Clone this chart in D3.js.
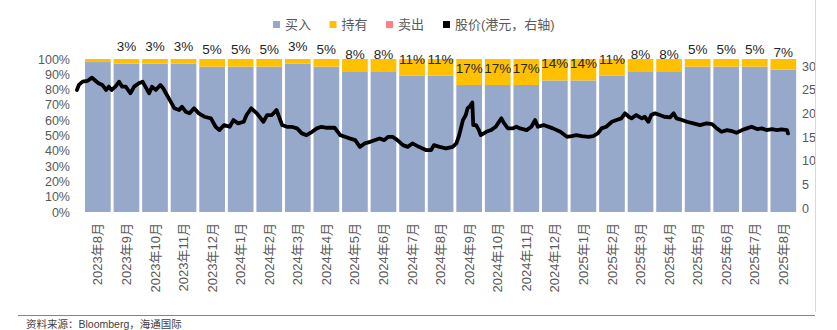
<!DOCTYPE html>
<html>
<head>
<meta charset="utf-8">
<script src="https://cdn.jsdelivr.net/npm/d3@7"></script>
<style>
  html, body { margin: 0; padding: 0; background: #ffffff; }
  svg { display: block; }
  text { font-family: "Liberation Sans", Arial, "Noto Sans CJK SC", sans-serif; }
</style>
</head>
<body>
<svg id="chart" width="837" height="330"></svg>
<script>
// ---------- data ----------
const months = ["2023年8月","2023年9月","2023年10月","2023年11月","2023年12月",
  "2024年1月","2024年2月","2024年3月","2024年4月","2024年5月","2024年6月","2024年7月",
  "2024年8月","2024年9月","2024年10月","2024年11月","2024年12月",
  "2025年1月","2025年2月","2025年3月","2025年4月","2025年5月","2025年6月","2025年7月","2025年8月"];
const buyPct  = [98,97,97,97,95,95,95,97,95,92,92,89,89,83,83,83,86,86,89,92,92,95,95,95,93];
const holdPct = [2,3,3,3,5,5,5,3,5,8,8,11,11,17,17,17,14,14,11,8,8,5,5,5,7];
const sellPct = [0,0,0,0,0,0,0,0,0,0,0,0,0,0,0,0,0,0,0,0,0,0,0,0,0];
const holdLabels = ["","3%","3%","3%","5%","5%","5%","3%","5%","8%","8%","11%","11%",
  "17%","17%","17%","14%","14%","11%","8%","8%","5%","5%","5%","7%"];
const leftTicks = [0,10,20,30,40,50,60,70,80,90,100];
const rightTicks = [0,5,10,15,20,25,30];
const seriesNames = ["买入","持有","卖出","股价(港元，右轴)"];

const priceDates = ["2023-08-01","2023-08-03","2023-08-07","2023-08-12","2023-08-17","2023-08-21","2023-08-24","2023-08-28",
  "2023-09-01","2023-09-04","2023-09-07","2023-09-11","2023-09-15","2023-09-18","2023-09-22","2023-09-27",
  "2023-10-01","2023-10-06","2023-10-10","2023-10-13","2023-10-17","2023-10-20","2023-10-24","2023-10-29",
  "2023-11-01","2023-11-05","2023-11-09","2023-11-13","2023-11-18","2023-11-21","2023-11-25","2023-11-29",
  "2023-12-04","2023-12-09","2023-12-15","2023-12-22","2023-12-27","2023-12-31",
  "2024-01-05","2024-01-11","2024-01-15","2024-01-20","2024-01-26","2024-01-29",
  "2024-02-03","2024-02-09","2024-02-16","2024-02-20","2024-02-25",
  "2024-03-01","2024-03-07","2024-03-12","2024-03-17","2024-03-23","2024-03-28",
  "2024-04-02","2024-04-08","2024-04-13","2024-04-18","2024-04-24",
  "2024-05-02","2024-05-08","2024-05-13","2024-05-18","2024-05-24","2024-05-29",
  "2024-06-03","2024-06-09","2024-06-19","2024-06-24","2024-06-28",
  "2024-07-03","2024-07-08","2024-07-14","2024-07-19","2024-07-24","2024-07-31",
  "2024-08-08","2024-08-13","2024-08-16","2024-08-22","2024-08-29",
  "2024-09-05","2024-09-09","2024-09-12","2024-09-16","2024-09-19","2024-09-21","2024-09-23","2024-09-26","2024-09-27","2024-09-30",
  "2024-10-03","2024-10-05","2024-10-11","2024-10-16","2024-10-21","2024-10-27","2024-10-30",
  "2024-11-03","2024-11-08","2024-11-12","2024-11-16","2024-11-23","2024-11-28",
  "2024-12-02","2024-12-05","2024-12-11","2024-12-21","2024-12-29",
  "2025-01-05","2025-01-10","2025-01-15","2025-01-21","2025-01-28",
  "2025-02-02","2025-02-07","2025-02-11","2025-02-16","2025-02-22","2025-02-27",
  "2025-03-04","2025-03-08","2025-03-12","2025-03-15","2025-03-20","2025-03-26","2025-03-29",
  "2025-04-02","2025-04-05","2025-04-09","2025-04-14","2025-04-19","2025-04-25","2025-04-29",
  "2025-05-02","2025-05-08","2025-05-13","2025-05-20","2025-05-27",
  "2025-06-03","2025-06-09","2025-06-14","2025-06-19","2025-06-25","2025-06-30",
  "2025-07-05","2025-07-11","2025-07-16","2025-07-21","2025-07-27",
  "2025-08-01","2025-08-06","2025-08-12","2025-08-17","2025-08-22","2025-08-28","2025-08-29"];
const priceValues = [24.94,26.00,26.69,26.84,27.54,26.84,26.36,26.00,
  24.94,25.64,24.94,25.64,26.69,25.64,25.64,24.24,
  25.64,26.36,26.69,25.64,24.24,25.64,24.94,26.00,
  25.30,23.88,22.46,21.06,20.70,21.40,20.34,20.00,
  21.06,20.00,19.28,18.94,17.16,16.46,
  17.52,17.16,18.58,17.88,18.22,19.64,
  21.06,20.00,18.22,19.64,19.64,
  20.70,17.52,17.16,17.16,16.82,15.76,
  15.40,16.10,16.82,17.16,16.95,
  16.95,15.40,15.04,14.70,14.34,12.92,
  13.64,13.98,14.70,14.34,15.04,
  15.04,14.34,13.28,12.92,13.64,12.92,
  12.22,12.22,13.28,12.92,12.58,
  12.92,13.64,15.40,18.58,19.64,21.06,21.40,22.30,17.52,17.52,
  16.46,15.40,16.10,16.46,17.16,18.94,17.88,
  16.82,16.82,17.16,16.82,16.46,17.16,
  18.58,17.16,17.52,16.82,16.10,
  15.04,15.19,15.40,15.19,15.04,
  15.19,15.76,16.82,17.16,18.22,18.58,
  18.94,20.00,19.28,18.94,19.64,18.94,19.28,
  18.22,19.64,20.00,19.64,19.28,19.15,20.00,
  18.94,18.58,18.22,17.88,17.52,
  17.88,17.73,16.82,16.10,16.46,16.25,
  15.89,16.46,16.82,17.16,16.67,
  16.82,16.46,16.67,16.46,16.61,16.46,15.76];

// ---------- layout ----------
const svg = d3.select("#chart");
const axisColor = "#595959";
const colBuy = "#97A9CB", colHold = "#FFC000", colSell = "#FF8080", colPrice = "#000000";

const x = d3.scaleBand().domain(months).range([83.6, 797.6]).paddingInner(0.1).paddingOuter(0.05);
const yL = d3.scaleLinear().domain([0, 100]).range([212, 59]);
const yR = d3.scaleLinear().domain([0, 30]).range([208, 66]);
const parse = d3.timeParse("%Y-%m-%d");
const xT = d3.scaleTime().domain([parse("2023-08-01"), parse("2025-08-29")]).range([77, 788]);

// stacked bars
const rows = months.map((m, i) => ({ m, buy: buyPct[i], hold: holdPct[i], sell: sellPct[i] }));
const stack = d3.stack().keys(["buy", "hold", "sell"])(rows);
const colors = { buy: colBuy, hold: colHold, sell: colSell };
svg.append("g").selectAll("g").data(stack).join("g")
  .attr("fill", d => colors[d.key])
  .selectAll("rect").data(d => d).join("rect")
  .attr("x", d => x(d.data.m))
  .attr("width", x.bandwidth())
  .attr("y", d => yL(d[1]))
  .attr("height", d => Math.max(0, yL(d[0]) - yL(d[1])));

// bar value labels
svg.append("g").selectAll("text").data(rows).join("text")
  .attr("x", d => x(d.m) + x.bandwidth() / 2)
  .attr("y", d => yL(d.buy) - 17)
  .attr("dy", "0.35em")
  .attr("text-anchor", "middle")
  .attr("font-size", "13.5px")
  .attr("fill", "#262626")
  .text((d, i) => holdLabels[i]);

// price line
const pts = priceDates.map((d, i) => ({ date: parse(d), v: priceValues[i] }));
svg.append("path").datum(pts)
  .attr("fill", "none")
  .attr("stroke", colPrice)
  .attr("stroke-width", 3.8)
  .attr("stroke-linejoin", "round")
  .attr("stroke-linecap", "round")
  .attr("d", d3.line().x(d => xT(d.date)).y(d => yR(d.v)));

// left axis
const gL = svg.append("g").attr("transform", "translate(73,0)")
  .call(d3.axisLeft(yL).tickValues(leftTicks).tickFormat(d => d + "%").tickSize(0).tickPadding(3));
gL.select(".domain").remove();
gL.selectAll("text").attr("font-size", "12.5px").attr("fill", axisColor)
  .attr("font-family", "'Liberation Sans', Arial, sans-serif");

// right axis
const gR = svg.append("g").attr("transform", "translate(799,0)")
  .call(d3.axisRight(yR).tickValues(rightTicks).tickSize(0).tickPadding(3));
gR.select(".domain").remove();
gR.selectAll("text").attr("font-size", "12.5px").attr("fill", axisColor)
  .attr("font-family", "'Liberation Sans', Arial, sans-serif");

// x axis labels (rotated)
const gX = svg.append("g").attr("transform", "translate(0,223)")
  .call(d3.axisBottom(x).tickSize(0).tickPadding(0));
gX.select(".domain").remove();
gX.selectAll("text")
  .attr("font-size", "13px").attr("fill", axisColor)
  .attr("font-family", "'Liberation Sans', 'Noto Sans CJK SC', sans-serif")
  .attr("text-anchor", "end")
  .attr("dy", "0.35em")
  .attr("transform", "rotate(-90)")
  .attr("x", 0).attr("y", 0);

// legend
const legendX = [273, 329.5, 386, 443];
const legendCol = [colBuy, colHold, colSell, colPrice];
const lg = svg.append("g");
seriesNames.forEach((name, i) => {
  lg.append("rect").attr("x", legendX[i]).attr("y", 21).attr("width", 7).attr("height", 7).attr("fill", legendCol[i]);
  lg.append("text").attr("x", legendX[i] + 12).attr("y", 24.5).attr("dy", "0.35em")
    .attr("font-size", "13px").attr("fill", axisColor)
    .attr("font-family", "'Noto Sans CJK SC', 'Liberation Sans', sans-serif")
    .text(name);
});

// frame details
svg.append("line").attr("x1", 815.5).attr("x2", 815.5).attr("y1", 0).attr("y2", 312)
  .attr("stroke", "#d9d9d9").attr("stroke-width", 1);
svg.append("line").attr("x1", 18).attr("x2", 815).attr("y1", 315.5).attr("y2", 315.5)
  .attr("stroke", "#7b7fbf").attr("stroke-width", 1);
svg.append("text").attr("x", 26).attr("y", 327.5)
  .attr("font-size", "10.5px").attr("fill", "#404040")
  .attr("font-family", "'Noto Sans CJK SC', sans-serif")
  .text("资料来源：Bloomberg，海通国际");
</script>
</body>
</html>
